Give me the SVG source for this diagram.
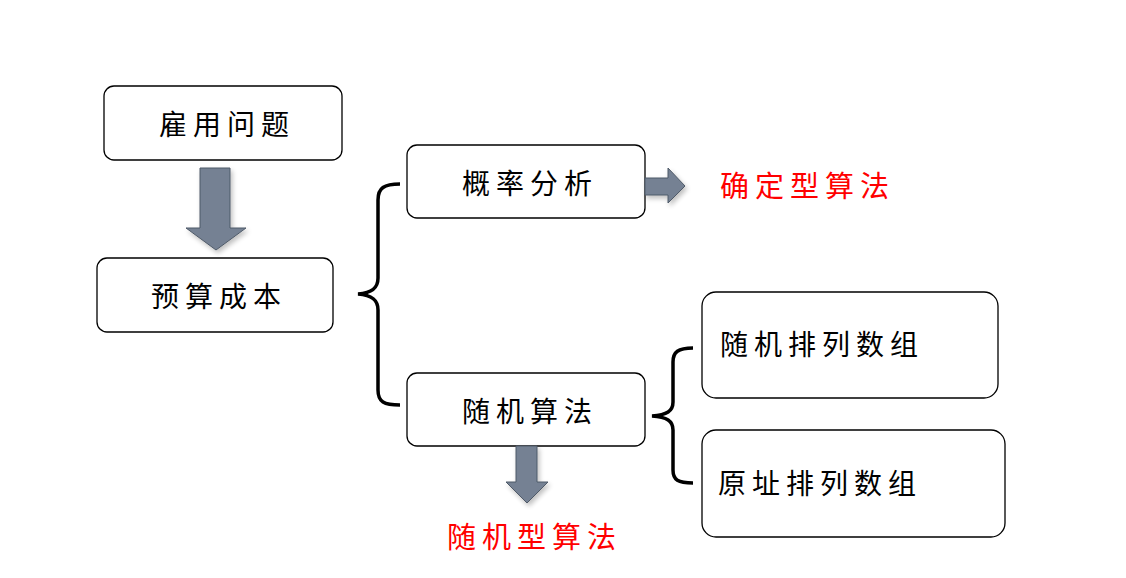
<svg xmlns="http://www.w3.org/2000/svg" width="1126" height="578" viewBox="0 0 1126 578">
<defs>
<style>
.box{fill:#fff;stroke:#000;stroke-width:1.3}
.t{font-family:"Noto Sans CJK SC","Noto Sans CJK JP",sans-serif;font-size:28px;fill:#000;letter-spacing:6px}
.r{fill:#f00;font-size:29px}
.arrow{fill:#758193;stroke:#4f5a68;stroke-width:1;filter:url(#sh)}
.brace{fill:none;stroke:#000;stroke-width:3.5}
</style>
<filter id="sh" x="-30%" y="-30%" width="160%" height="160%">
<feGaussianBlur in="SourceAlpha" stdDeviation="2.5"/>
<feOffset dx="2" dy="3" result="b"/>
<feComponentTransfer><feFuncA type="linear" slope="0.25"/></feComponentTransfer>
<feMerge><feMergeNode/><feMergeNode in="SourceGraphic"/></feMerge>
</filter>
</defs>
<rect width="1126" height="578" fill="#fff"/>
<g id="n1"><rect class="box" x="104" y="86" width="238" height="74" rx="10"/><text class="t" x="227" y="135" text-anchor="middle">雇用问题</text></g>
<g id="n2"><rect class="box" x="97" y="258" width="236" height="74" rx="10"/><text class="t" x="219" y="307" text-anchor="middle">预算成本</text></g>
<g id="n3"><rect class="box" x="407" y="145" width="238" height="73" rx="10"/><text class="t" x="530" y="194" text-anchor="middle">概率分析</text></g>
<g id="n4"><rect class="box" x="407" y="373" width="238" height="73" rx="10"/><text class="t" x="530" y="422" text-anchor="middle">随机算法</text></g>
<g id="n5"><rect class="box" x="702" y="292" width="296" height="106" rx="14"/><text class="t" x="720" y="355">随机排列数组</text></g>
<g id="n6"><rect class="box" x="702" y="430" width="303" height="107" rx="14"/><text class="t" x="718" y="494">原址排列数组</text></g>
<g id="n7"><text class="t r" x="720" y="197">确定型算法</text></g>
<g id="n8"><text class="t r" x="447" y="548">随机型算法</text></g>
<g id="connectors">
<path class="arrow" d="M200,168 H230 V228 H246 L216,250 L186,228 H200 Z"/>
<path class="arrow" d="M645,178 H668 V168 L685,186 L668,203 V195 H645 Z"/>
<path class="arrow" d="M516,446 H537 V482 H548 L527,503 L506,482 H516 Z"/>
<path class="brace" d="M400,184 C384,184 378,188 378,200 V278 C378,288 372,293 358,294 C372,295 378,300 378,310 V390 C378,402 384,405 400,405"/>
<path class="brace" d="M693,348 C678,348 673,352 673,362 V402 C673,411 667,415 652,416 C667,417 673,421 673,430 V470 C673,480 678,483 693,483"/>
</g>
</svg>
